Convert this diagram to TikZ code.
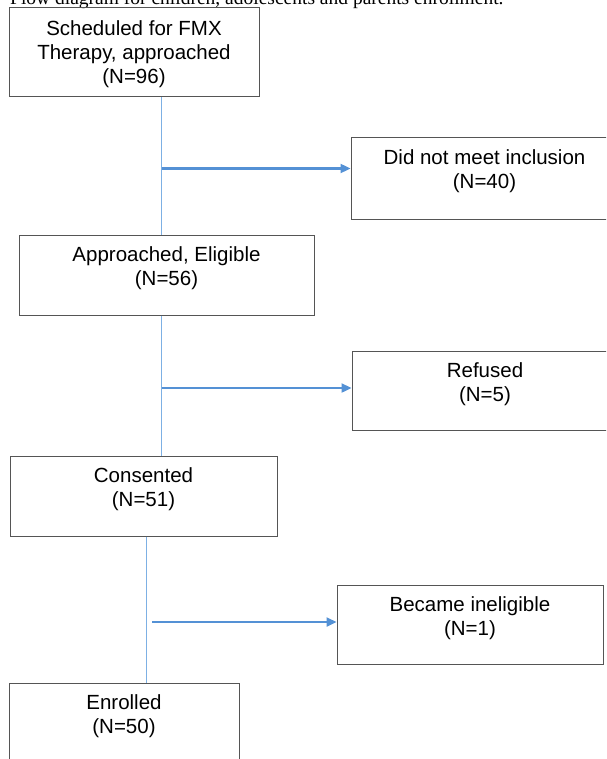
\documentclass[tikz,border=0pt]{standalone}
\usepackage{fontspec}
\setmainfont{Liberation Sans}
\newfontfamily\capfont{Liberation Serif}
\usetikzlibrary{positioning, arrows.meta}
\definecolor{boxgray}{RGB}{85,85,85}
\definecolor{spineblue}{RGB}{125,176,228}
\definecolor{arrowblue}{RGB}{84,145,213}

\begin{document}
\begin{tikzpicture}[x=1pt, y=-1pt,
  box/.style={draw=boxgray, line width=1pt, inner sep=0pt},
  boxtext/.style={align=center, inner sep=0pt, font=\fontsize{20.5}{24}\selectfont},
  spine/.style={draw=spineblue, line width=1pt},
  flow/.style={draw=arrowblue, line width=2.3pt, -{Triangle[length=10pt,width=9pt]}}]
\useasboundingbox (0,0) rectangle (606,759);
\clip (0,0) rectangle (606,759);
\node[anchor=base west, inner sep=0pt, font=\capfont\fontsize{19.5}{22}\selectfont] (cap) at (10,4.5) {Flow diagram for children, adolescents and parents enrollment.};

\node[box, minimum width=250pt, minimum height=89pt] (sched) at (134,52.5) {};
\node[box, minimum width=295pt, minimum height=80pt] (appr) at (166.5,275) {};
\node[box, minimum width=267pt, minimum height=80pt] (cons) at (143.5,496) {};
\node[box, minimum width=230pt, minimum height=80pt] (enrl) at (124,723) {};
\node[box, minimum width=267pt, minimum height=81pt] (excl) at (484.5,178.5) {};
\node[box, minimum width=266pt, minimum height=79pt] (refu) at (485,390.5) {};
\node[box, minimum width=266pt, minimum height=79pt] (inel) at (470,624.5) {};

\node[boxtext, below=12.5pt of sched.north] (schedtxt) {Scheduled for FMX\\Therapy, approached\\(N=96)};
\node[boxtext, below=12pt of appr.north] (apprtxt) {Approached, Eligible\\(N=56)};
\node[boxtext, below=12pt of cons.north] (constxt) {Consented\\(N=51)};
\node[boxtext, below=12pt of enrl.north] (enrltxt) {Enrolled\\(N=50)};
\node[boxtext, below=12pt of excl.north] (excltxt) {Did not meet inclusion\\(N=40)};
\node[boxtext, below=12pt of refu.north] (refutxt) {Refused\\(N=5)};
\node[boxtext, below=12pt of inel.north] (ineltxt) {Became ineligible\\(N=1)};

\coordinate (s1) at (161.5,0);
\coordinate (s2) at (146,0);
\draw[spine] (sched.south -| s1) -- (appr.north -| s1);
\draw[spine] (appr.south -| s1) -- (cons.north -| s1);
\draw[spine] (cons.south -| s2) -- (enrl.north -| s2);

\coordinate (a1) at (161.5,168.5);
\coordinate (a2) at (161.5,388);
\coordinate (a3) at (152,622);
\draw[flow] (a1) -- (a1 -| excl.west);
\draw[flow] (a2) -- (a2 -| refu.west);
\draw[flow] (a3) -- (a3 -| inel.west);
\end{tikzpicture}
\end{document}
